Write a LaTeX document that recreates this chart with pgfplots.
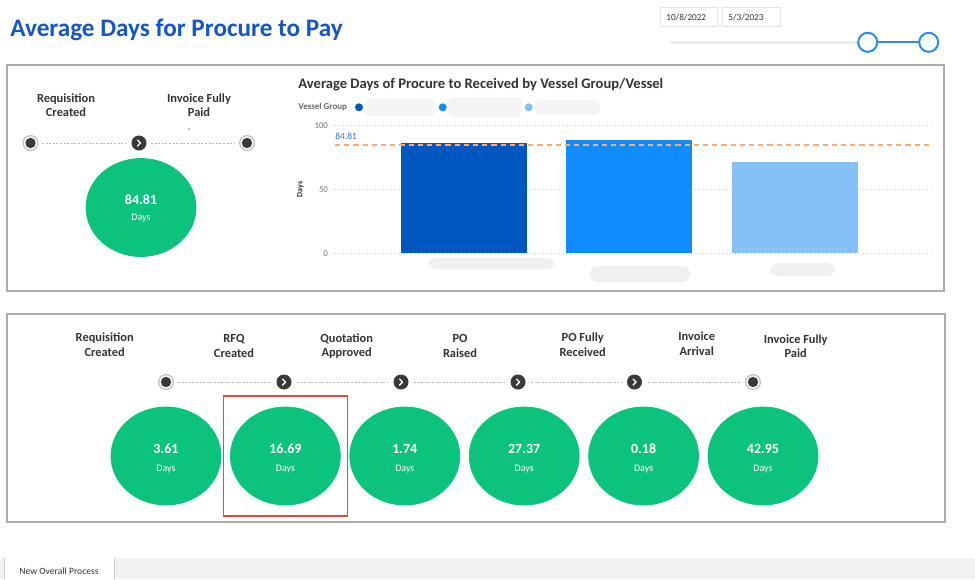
\documentclass[border=0pt]{standalone}
\usepackage{pgfplots}
\pgfplotsset{compat=1.18}
\usepackage{fontspec}
\setmainfont{Carlito}
\definecolor{titleblue}{HTML}{1556C6}
\definecolor{bubgreen}{HTML}{0BC37D}
\definecolor{barA}{HTML}{0057C0}
\definecolor{barB}{HTML}{118CFF}
\definecolor{barC}{HTML}{85C0F6}
\definecolor{refor}{HTML}{FBAE72}
\definecolor{panelgray}{HTML}{ABABAB}
\definecolor{txtdark}{HTML}{333333}
\definecolor{nodedark}{HTML}{3A3A3A}
\definecolor{sliderblue}{HTML}{2A8BEA}
\definecolor{reflbl}{HTML}{3A6FD8}
\definecolor{framered}{HTML}{E8473F}
\newcommand{\fs}[1]{\fontsize{#1}{#1}\selectfont}
\newcommand{\ring}[2]{%
  \fill[black!25] (#1,#2) circle (8);
  \fill[white] (#1,#2) circle (6.6);
  \fill[nodedark] (#1,#2) circle (5.2);}
\newcommand{\chev}[2]{%
  \fill[nodedark] (#1,#2) circle (7.5);
  \begin{scope}[shift={(#1,#2)}]
  \draw[white, line width=0.7pt, line cap=round, line join=round] (-1.5,-3) -- (1.5,0) -- (-1.5,3);
  \end{scope}}
\tikzset{conn/.style={draw=black!28, line width=0.5pt, dash pattern=on 1pt off 0.8pt}}
\pgfplotstableread{
x y v
0 0 3.61
1 0 16.69
2 0 1.74
3 0 27.37
4 0 0.18
5 0 42.95
}\steps
\begin{document}
\begin{tikzpicture}[x=0.5pt,y=-0.5pt]
\path[use as bounding box, fill=white] (0,0) rectangle (975,579);

% title
\node[anchor=base west, inner sep=0, text=titleblue, font=\fs{12.6}\bfseries] at (10,36.5) {Average Days for Procure to Pay};

% date slicer
\draw[draw=black!10, line width=0.4pt] (660,7.5) rectangle (717.5,26.5);
\draw[draw=black!10, line width=0.4pt] (722.5,7.5) rectangle (780.5,26.5);
\node[anchor=west, inner sep=0, font=\fs{4.6}, text=txtdark] at (666,17.5) {10/8/2022};
\node[anchor=west, inner sep=0, font=\fs{4.6}, text=txtdark] at (728,17.5) {5/3/2023};
\draw[black!7, line width=1.5pt] (670,42.3) -- (858,42.3);
\draw[sliderblue, line width=1pt] (868,42.3) -- (929,42.3);
\draw[sliderblue, line width=1pt, fill=white] (867.7,42.3) circle (9.5);
\draw[sliderblue, line width=1pt, fill=white] (928.7,42.3) circle (9.5);

% panels
\draw[panelgray, line width=0.6pt] (7,65) rectangle (944,291);
\draw[panelgray, line width=0.6pt] (7,314) rectangle (945,522);

% top timeline
\draw[conn] (42,143) -- (126,143);
\draw[conn] (151,143) -- (234,143);
\ring{30.5}{143}
\chev{139}{143}
\ring{247}{143}
\node[align=center, font=\fontsize{6.2}{7.3}\selectfont\bfseries, text=txtdark] at (66,105) {Requisition\\Created};
\node[align=center, font=\fontsize{6.2}{7.3}\selectfont\bfseries, text=txtdark] at (199,105) {Invoice Fully\\Paid};
\fill[black!50] (189,129) circle (0.8);

% top bubble
\begin{axis}[at={(40.65pt,-108.75pt)}, anchor=south west, scale only axis,
  width=59.7pt, height=10pt, xmin=-0.5, xmax=0.5, ymin=-1, ymax=1, hide axis, clip=false]
\addplot[only marks, mark=*, mark size=24.5pt, mark options={xscale=1.122, fill=bubgreen, draw=bubgreen}] coordinates {(0,0)};
\addplot[draw=none, point meta=explicit symbolic, nodes near coords, nodes near coords align={center},
  every node near coord/.append style={text=white, font=\fs{7}\bfseries, yshift=3.75pt}] coordinates {(0,0) [84.81]};
\addplot[draw=none, point meta=explicit symbolic, nodes near coords, nodes near coords align={center},
  every node near coord/.append style={text=white, font=\fs{5}, yshift=-5.4pt}] coordinates {(0,0) [Days]};
\end{axis}

% bar chart
\node[anchor=base west, inner sep=0, font=\fs{7.3}\bfseries, text=txtdark] at (298,88.3) {Average Days of Procure to Received by Vessel Group/Vessel};
\node[anchor=west, inner sep=0, font=\fs{4.5}\bfseries, text=black!60] at (298,107.3) {Vessel Group};
\fill[black!4, rounded corners=3] (365,99) rectangle (435,116);
\fill[black!4, rounded corners=3] (448,97) rectangle (522,117);
\fill[black!4, rounded corners=3] (535,100) rectangle (600,115);
\fill[barA] (359,107.3) circle (4);
\fill[barB] (442.7,107.3) circle (4);
\fill[barC] (528.7,107.3) circle (4);

\begin{axis}[at={(167.5pt,-126.65pt)}, anchor=south west, scale only axis,
  width=298.5pt, height=63.8pt, xmin=-0.78, xmax=2.83, ymin=0, ymax=100,
  axis line style={draw=none}, major tick length=0, xtick=\empty, ytick={0,50,100},
  ymajorgrids, major grid style={draw=black!22, line width=0.4pt, dash pattern=on 0.5pt off 1.5pt},
  /pgf/number format/assume math mode=true,
  yticklabel style={font=\fs{4.4}, text=black!55},
  ylabel={Days}, ylabel style={at={(axis description cs:-0.058,0.5)}, anchor=center, font=\fs{4}\bfseries, text=txtdark},
  clip=false]
\addplot[ybar, bar width=63pt, bar shift=0pt, fill=barA, draw=none] coordinates {(0,86.7)};
\addplot[ybar, bar width=63pt, bar shift=0pt, fill=barB, draw=none] coordinates {(1,88.8)};
\addplot[ybar, bar width=63pt, bar shift=0pt, fill=barC, draw=none] coordinates {(2,71.8)};
\addplot[refor, line width=1pt, dash pattern=on 2.6pt off 2pt] coordinates {(-0.78,84.81) (2.83,84.81)};
\node[anchor=south west, inner sep=0, font=\fs{4.7}, text=reflbl] at (axis cs:-0.78,84.81) [yshift=2.6pt] {84.81};
\end{axis}
\fill[black!6, rounded corners=4] (428,258) rectangle (555,269);
\fill[black!6, rounded corners=4] (590,266) rectangle (690,282);
\fill[black!6, rounded corners=4] (770,263) rectangle (835,276);

% bottom timeline
\draw[conn] (178,382) -- (271,382);
\draw[conn] (297,382) -- (388,382);
\draw[conn] (414,382) -- (505,382);
\draw[conn] (531,382) -- (622,382);
\draw[conn] (648,382) -- (741,382);
\ring{166}{382}
\chev{284}{382}
\chev{401}{382}
\chev{518}{382}
\chev{634.5}{382}
\ring{753}{382}
\tikzset{stl/.style={align=center, font=\fontsize{6.2}{7.3}\selectfont\bfseries, text=txtdark}}
\node[stl] at (104.7,344.5) {Requisition\\Created};
\node[stl] at (234,346) {RFQ\\Created};
\node[stl] at (346.7,346) {Quotation\\Approved};
\node[stl] at (460,346) {PO\\Raised};
\node[stl] at (582.7,344.5) {PO Fully\\Received};
\node[stl] at (696.7,343.7) {Invoice\\Arrival};
\node[stl] at (795.7,346) {Invoice Fully\\Paid};

\begin{axis}[at={(53.15pt,-233pt)}, anchor=south west, scale only axis,
  width=358.2pt, height=10pt, xmin=-0.5, xmax=5.5, ymin=-1, ymax=1, hide axis, clip=false]
\addplot[only marks, mark=*, mark size=24.5pt, mark options={xscale=1.122, fill=bubgreen, draw=bubgreen}] table[x=x, y=y] {\steps};
\addplot[draw=none, point meta=explicit symbolic, nodes near coords, nodes near coords align={center},
  every node near coord/.append style={text=white, font=\fs{7}\bfseries, yshift=3.75pt}] table[x=x, y=y, meta=v] {\steps};
\addplot[draw=none, point meta=explicit symbolic, nodes near coords={Days}, nodes near coords align={center},
  every node near coord/.append style={text=white, font=\fs{5}, yshift=-6.6pt}] table[x=x, y=y, meta=v] {\steps};
\end{axis}

\draw[framered, line width=0.8pt] (223.3,396) rectangle (347.3,515.7);

% bottom tab bar
\fill[black!5] (0,558) rectangle (975,579);
\fill[white] (4,558) rectangle (114,579);
\draw[black!20, line width=0.4pt] (4,558) -- (4,579) (114,558) -- (114,579);
\node[font=\fs{4.8}, text=txtdark] at (59,571) {New Overall Process};
\end{tikzpicture}
\end{document}
